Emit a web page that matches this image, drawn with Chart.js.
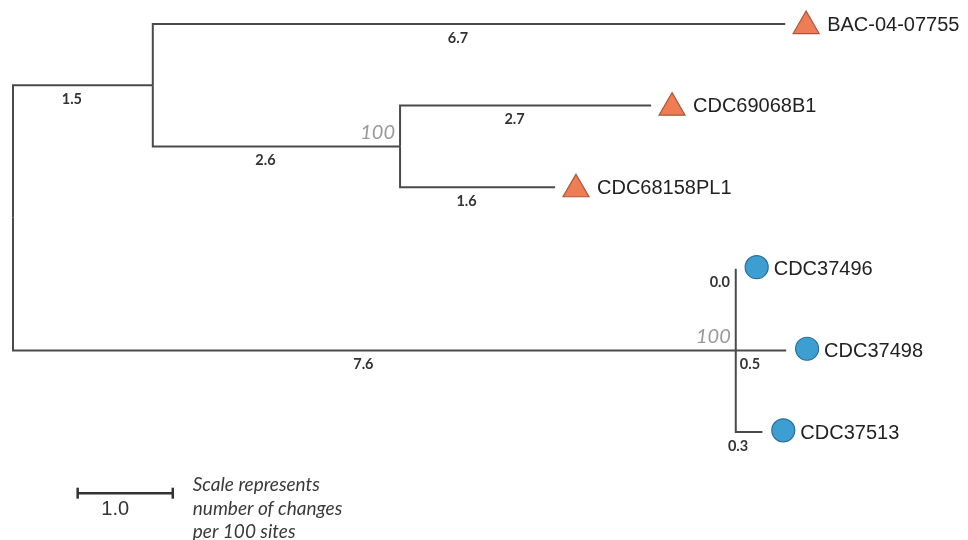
<!DOCTYPE html>
<html>
<head>
<meta charset="utf-8">
<script src="https://cdn.jsdelivr.net/npm/chart.js@4/dist/chart.umd.min.js"></script>
<style>
  html, body { margin: 0; padding: 0; background: #fff; }
  canvas { display: block; }
</style>
</head>
<body>
<canvas id="tree" width="968" height="540"></canvas>
<script>
// leaves, top to bottom
const tipNames = ['BAC-04-07755', 'CDC69068B1', 'CDC68158PL1', 'CDC37496', 'CDC37498', 'CDC37513'];
const tipDepth = [8.12, 6.71, 5.70, 7.60, 8.13, 7.88];   // distance from root
const tipRow = [0, 1, 2, 3, 4, 5];
const tipParent = ['A', 'B', 'B', 'C', 'C', 'C'];
const tipLength = ['6.7', '2.7', '1.6', '0.0', '0.5', '0.3'];
const tipGroup = ['triangle', 'triangle', 'triangle', 'circle', 'circle', 'circle'];

// internal nodes
const nodeNames = ['root', 'A', 'B', 'C'];
const nodeDepth = [0, 1.47, 4.07, 7.60];
const nodeRow = [2.375, 0.75, 1.5, 4];
const nodeParent = [null, 'root', 'A', 'root'];
const nodeLength = ['', '1.5', '2.6', '7.6'];
const nodeSupport = ['', '', '100', '100'];

const scaleBarLength = 1.0;

const lineColor = '#4a4a4a';
const nodeIdx = name => nodeNames.indexOf(name);

// one elbow per branch: parent node -> down/up to child row -> across to child
const branches = [];
nodeNames.forEach((n, i) => {
  if (nodeParent[i] === null) return;
  const p = nodeIdx(nodeParent[i]);
  branches.push({ px: nodeDepth[p], py: nodeRow[p], cx: nodeDepth[i], cy: nodeRow[i], label: nodeLength[i] });
});
tipNames.forEach((n, i) => {
  const p = nodeIdx(tipParent[i]);
  branches.push({ px: nodeDepth[p], py: nodeRow[p], cx: tipDepth[i], cy: tipRow[i], label: tipLength[i], tip: n });
});

const branchSets = branches.map(b => ({
  type: 'scatter',
  showLine: true,
  data: [{ x: b.px, y: b.py }, { x: b.px, y: b.cy }, { x: b.cx, y: b.cy }],
  borderColor: lineColor,
  borderWidth: 2,
  pointRadius: 0,
  tension: 0,
  clip: false
}));

const markerGap = 0.22;
const triangles = {
  type: 'scatter',
  data: tipNames.map((n, i) => ({ x: tipDepth[i] + markerGap, y: tipRow[i] + 0.025 }))
    .filter((d, i) => tipGroup[i] === 'triangle'),
  pointStyle: 'triangle',
  pointRadius: 15,
  backgroundColor: '#ee7c55',
  borderColor: '#a9573b',
  borderWidth: 1.2,
  clip: false
};
const circles = {
  type: 'scatter',
  data: tipNames.map((n, i) => ({ x: tipDepth[i] + markerGap, y: tipRow[i] - 0.02 }))
    .filter((d, i) => tipGroup[i] === 'circle'),
  pointStyle: 'circle',
  pointRadius: 11.5,
  backgroundColor: '#3d9fd1',
  borderColor: '#2b6f9a',
  borderWidth: 1.2,
  clip: false
};

const scaleStart = 0.68, scaleRow = 5.75;
const scaleBar = {
  type: 'scatter',
  showLine: true,
  data: [{ x: scaleStart, y: scaleRow }, { x: scaleStart + scaleBarLength, y: scaleRow }],
  borderColor: '#333',
  borderWidth: 2.5,
  pointStyle: 'line',
  rotation: 90,
  pointRadius: 5.5,
  pointBorderWidth: 2.5,
  pointBorderColor: '#333',
  clip: false
};

// texts on the tree
const treeText = {
  id: 'treeText',
  afterDatasetsDraw(chart) {
    const { ctx, scales: { x, y } } = chart;
    ctx.save();
    ctx.textBaseline = 'middle';

    // branch lengths
    ctx.fillStyle = '#333';
    ctx.font = 'bold 14.5px Lato, "Open Sans", sans-serif';
    ctx.textAlign = 'center';
    branches.forEach(b => {
      const mid = (x.getPixelForValue(b.px) + x.getPixelForValue(b.cx)) / 2;
      let dx = -11;
      if (b.label === '0.0') dx = -16;
      ctx.fillText(b.label, mid + dx, y.getPixelForValue(b.cy) + 14);
    });

    // bootstrap support
    ctx.fillStyle = '#9a9a9a';
    ctx.font = 'italic 20px Lato, "Open Sans", sans-serif';
    ctx.textAlign = 'right';
    nodeNames.forEach((n, i) => {
      if (!nodeSupport[i]) return;
      ctx.fillText(nodeSupport[i], x.getPixelForValue(nodeDepth[i]) - 5, y.getPixelForValue(nodeRow[i]) - 14);
    });

    // tip names
    ctx.fillStyle = '#222';
    ctx.font = '20px "Liberation Sans", Arial, sans-serif';
    ctx.textAlign = 'left';
    tipNames.forEach((n, i) => {
      const px = x.getPixelForValue(tipDepth[i] + markerGap);
      ctx.fillText(n, px + (tipGroup[i] === 'triangle' ? 21 : 17), y.getPixelForValue(tipRow[i]) + 1);
    });

    // scale bar
    const sy = y.getPixelForValue(scaleRow);
    ctx.fillStyle = '#333';
    ctx.textAlign = 'center';
    ctx.font = '20px "Liberation Sans", Arial, sans-serif';
    ctx.fillText(scaleBarLength.toFixed(1), x.getPixelForValue(scaleStart + scaleBarLength / 2) - 10, sy + 16);

    ctx.textAlign = 'left';
    ctx.fillStyle = '#3a3a3a';
    ctx.font = 'italic 19px Lato, "Open Sans", sans-serif';
    const tx = x.getPixelForValue(scaleStart + scaleBarLength) + 20;
    ['Scale represents', 'number of changes', 'per 100 sites'].forEach((t, k) => {
      ctx.fillText(t, tx, sy - 8 + k * 23.5);
    });
    ctx.restore();
  }
};

const unitPx = 95.1, rowPx = 81.6;
new Chart(document.getElementById('tree'), {
  type: 'scatter',
  data: { datasets: [...branchSets, scaleBar, triangles, circles] },
  options: {
    responsive: false,
    animation: false,
    events: [],
    layout: { padding: 0, autoPadding: false },
    plugins: { legend: { display: false }, tooltip: { enabled: false } },
    scales: {
      x: { type: 'linear', display: false, min: -13 / unitPx, max: (968 - 13) / unitPx },
      y: { type: 'linear', display: false, reverse: true, min: -24 / rowPx, max: (540 - 24) / rowPx }
    }
  },
  plugins: [treeText]
});
</script>
</body>
</html>
